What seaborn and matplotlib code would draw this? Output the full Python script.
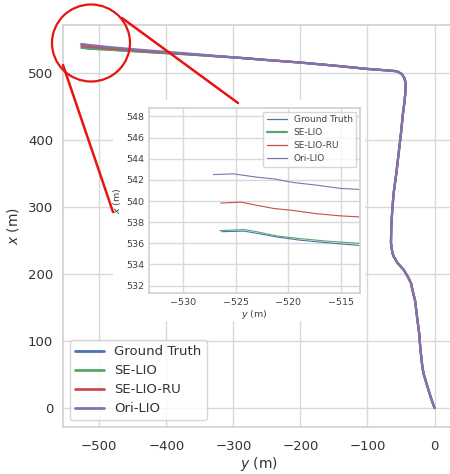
import numpy as np
import pandas as pd
import matplotlib
matplotlib.use("Agg")
import matplotlib.pyplot as plt
import seaborn as sns
from matplotlib.patches import Ellipse, Rectangle
from matplotlib.lines import Line2D

# ---------------- data ----------------
series_names = ["Ground Truth", "SE-LIO", "SE-LIO-RU", "Ori-LIO"]

# tails near the start of the trajectory (y, x) in metres
gt_tail_y = [-526.3, -524.2, -523.0, -521.1, -518.9, -516.3, -513.3, -505, -490, -470, -450, -425, -400, -375, -350, -325]
gt_tail_x = [537.1, 537.15, 536.95, 536.6, 536.3, 536.05, 535.8, 535.2, 534.5, 533.2, 532.0, 530.5, 529.0, 527.6, 526.0, 524.3]

se_tail_y = [-526.5, -524.2, -523.0, -521.1, -518.9, -516.3, -513.3, -505, -490, -470, -450, -425, -400, -375, -350, -325]
se_tail_x = [537.2, 537.3, 537.1, 536.7, 536.45, 536.2, 536.0, 535.4, 534.7, 533.4, 532.2, 530.7, 529.2, 527.8, 526.2, 524.4]

ru_tail_y = [-526.4, -524.5, -523.0, -521.4, -519.5, -517.3, -515.1, -513.3, -505, -490, -470, -450, -425, -400, -375, -350, -325]
ru_tail_x = [539.8, 539.9, 539.6, 539.3, 539.1, 538.8, 538.6, 538.5, 537.7, 536.4, 534.9, 533.5, 531.7, 530.0, 528.3, 526.5, 524.6]

ori_tail_y = [-527.1, -525.2, -523.0, -521.4, -519.5, -517.3, -515.1, -513.3, -505, -490, -470, -450, -425, -400, -375, -350, -325]
ori_tail_x = [542.5, 542.57, 542.26, 542.1, 541.75, 541.5, 541.2, 541.1, 540.2, 538.6, 536.8, 535.0, 532.9, 531.0, 529.0, 527.0, 524.8]

# shared main route (all methods overlap at this scale)
route_y = [-300, -250, -200, -150, -100, -80, -66, -56, -49, -45, -43, -43.5, -45, -47, -50, -53.5,
           -57, -61, -63, -64.5, -65, -63, -61, -55, -46, -40, -35, -33, -29, -26, -23, -21, -18, -16,
           -10, -5, 0]
route_x = [522.8, 518.8, 515, 510.5, 505.5, 504, 503, 502, 498, 492, 484, 470, 455, 440, 410, 380,
           350, 320, 296, 270, 246, 232, 226, 216, 206, 196, 186, 176, 160, 135, 112, 87, 60, 50,
           30, 14, 0]

tails = {
    "Ground Truth": (gt_tail_y, gt_tail_x),
    "SE-LIO": (se_tail_y, se_tail_x),
    "SE-LIO-RU": (ru_tail_y, ru_tail_x),
    "Ori-LIO": (ori_tail_y, ori_tail_x),
}

rows = []
for name in series_names:
    ty, tx = tails[name]
    ys = list(ty) + route_y
    xs = list(tx) + route_x
    for i, (yy, xx) in enumerate(zip(ys, xs)):
        rows.append({"series": name, "idx": i, "y": yy, "x": xx})
df = pd.DataFrame(rows)

main_xticks = [-500, -400, -300, -200, -100, 0]
main_yticks = [0, 100, 200, 300, 400, 500]
inset_xticks = [-530, -525, -520, -515]
inset_yticks = [532, 534, 536, 538, 540, 542, 544, 546, 548]

# ---------------- style ----------------
sns.set_theme(style="whitegrid")
plt.rcParams["font.family"] = ["DejaVu Sans"]
plt.rcParams["axes.edgecolor"] = "0.82"
plt.rcParams["grid.color"] = "0.85"
deep = sns.color_palette("deep")
palette = dict(zip(series_names, [deep[0], deep[2], deep[3], deep[4]]))

W, H = 450, 474
fig = plt.figure(figsize=(W / 100, H / 100), dpi=100)

def fr(x0, y0, x1, y1):
    # pixel box (left, top, right, bottom) -> figure fraction rect
    return [x0 / W, 1 - y1 / H, (x1 - x0) / W, (y1 - y0) / H]

# main axes
ax = fig.add_axes(fr(63, 25, 455, 427))
sns.lineplot(data=df, x="y", y="x", hue="series", hue_order=series_names, palette=palette,
             sort=False, estimator=None, units="series", lw=1.6, ax=ax, legend=True)
ax.set_xlim(-554, 30.5)
ax.set_ylim(-28.3, 571)
ax.set_xticks(main_xticks)
ax.set_yticks(main_yticks)
ax.tick_params(axis="y", labelsize=9.5, colors="0.2", length=0, pad=7)
ax.tick_params(axis="x", labelsize=9.5, colors="0.2", length=0, pad=9)
ax.set_xlabel("$y$ (m)", fontsize=10, color="0.2", labelpad=2)
ax.set_ylabel("$x$ (m)", fontsize=10, color="0.2", labelpad=5)
ax.spines["right"].set_visible(False)
h, l = ax.get_legend_handles_labels()
leg = ax.legend(h, l, loc="lower left", fontsize=9.5, labelspacing=0.45, borderaxespad=0.5,
                handlelength=2.2, frameon=True)
for ln in leg.get_lines():
    ln.set_linewidth(2.0)
for t in leg.get_texts():
    t.set_color("0.2")

# white background behind inset
bg = Rectangle((113 / W, 1 - 321 / H), (365 - 113) / W, (321 - 100) / H, transform=fig.transFigure,
               facecolor="white", edgecolor="none", zorder=1)
fig.add_artist(bg)

# inset axes
axi = fig.add_axes(fr(149, 108, 360, 293))
axi.set_zorder(2)
sns.lineplot(data=df, x="y", y="x", hue="series", hue_order=series_names, palette=palette,
             sort=False, estimator=None, units="series", lw=0.8, ax=axi, legend=True)
for ln in axi.get_lines():
    if ln.get_label() == "SE-LIO":
        ln.set_linewidth(1.1)
axi.set_xlim(-533.2, -513.2)
axi.set_ylim(531.3, 548.8)
axi.set_xticks(inset_xticks)
axi.set_yticks(inset_yticks)
axi.tick_params(labelsize=6.8, colors="0.25", length=0, pad=3.5)
axi.set_xlabel("$y$ (m)", fontsize=6.8, color="0.25", labelpad=1)
axi.set_ylabel("$x$ (m)", fontsize=6.8, color="0.25", labelpad=2)
hi, li = axi.get_legend_handles_labels()
legi = axi.legend(hi, li, loc="upper right", fontsize=6.5, labelspacing=0.45, borderaxespad=0.4,
                  handlelength=2.2, frameon=True)
for ln, name in zip(legi.get_lines(), series_names):
    ln.set_linewidth(1.6 if name == "SE-LIO" else 0.9)
for t in legi.get_texts():
    t.set_color("0.25")

# red zoom circle and connecting lines
red = "#e8140f"
circ = Ellipse((91 / W, 1 - 43 / H), 78 / W, 77 / H, transform=fig.transFigure,
               facecolor="none", edgecolor=red, lw=1.6, zorder=5)
fig.add_artist(circ)
for (x0, y0, x1, y1) in [(122, 18, 238, 103), (63, 65, 113, 212)]:
    fig.add_artist(Line2D([x0 / W, x1 / W], [1 - y0 / H, 1 - y1 / H], transform=fig.transFigure,
                          color=red, lw=1.8, zorder=5))

fig.savefig("out.png", dpi=100)
